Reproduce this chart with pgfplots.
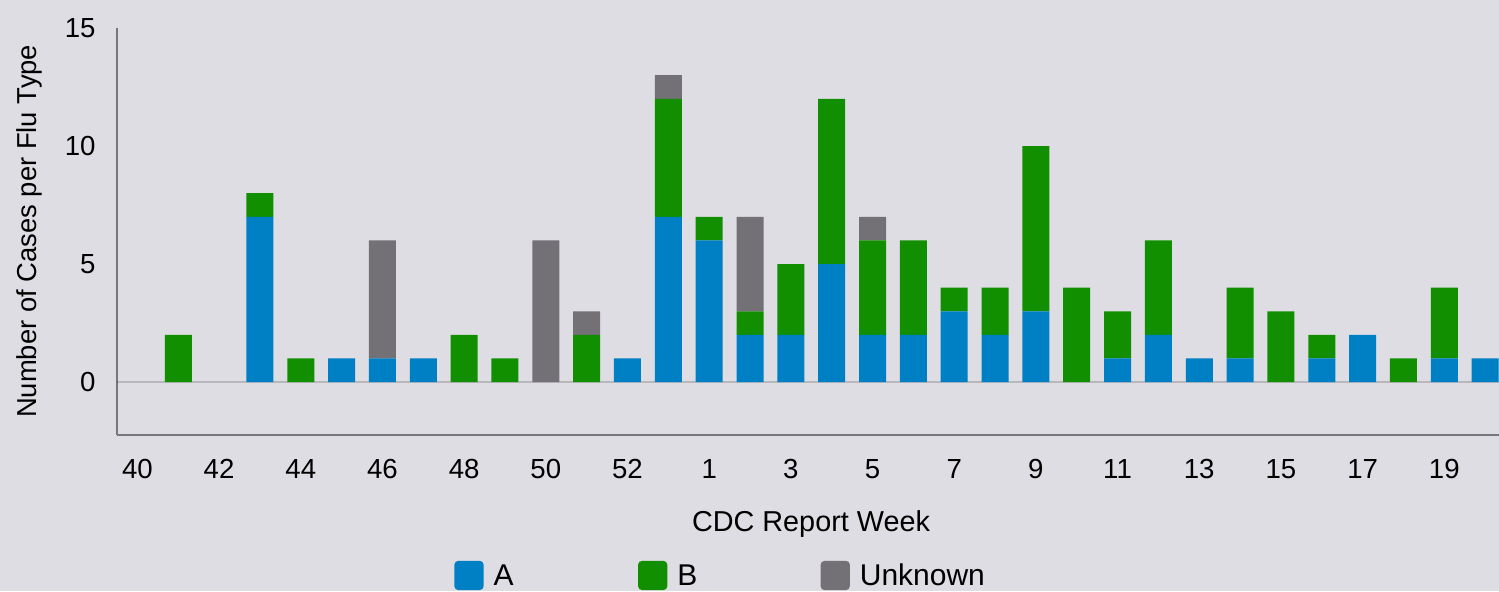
\documentclass[border=0pt]{standalone}
\usepackage{fontspec}
\setmainfont{Liberation Sans}
\usepackage{pgfplots}
\usepackage{pgfplotstable}
\pgfplotsset{compat=1.18}
\definecolor{bg}{HTML}{DEDDE3}
\definecolor{cA}{HTML}{0080C4}
\definecolor{cB}{HTML}{118F00}
\definecolor{cU}{HTML}{737176}
\definecolor{axc}{HTML}{77767B}
\pgfplotsset{roundsq/.style={legend image code/.code={\fill[##1, draw=none, rounded corners=2pt] (0pt,-2.2pt) rectangle (14.65pt,12.45pt);}}}
\pgfplotstableread{
x A B U
0 0 0 0
1 0 2 0
2 0 0 0
3 7 1 0
4 0 1 0
5 1 0 0
6 1 0 5
7 1 0 0
8 0 2 0
9 0 1 0
10 0 0 6
11 0 2 1
12 1 0 0
13 7 5 1
14 6 1 0
15 2 1 4
16 2 3 0
17 5 7 0
18 2 4 1
19 2 4 0
20 3 1 0
21 2 2 0
22 3 7 0
23 0 4 0
24 1 2 0
25 2 4 0
26 1 0 0
27 1 3 0
28 0 3 0
29 1 1 0
30 2 0 0
31 0 1 0
32 1 3 0
33 1 0 0
}\flu
\begin{document}
\begin{tikzpicture}
\fill[bg] (0,0) rectangle (749.5pt,295.5pt);
\begin{axis}[
  at={(58.5pt,78.15pt)}, anchor=south west,
  scale only axis, width=691pt, height=203.35pt,
  ybar stacked, bar width=13.5pt,
  xmin=-0.5, xmax=33.34, ymin=-2.23, ymax=15,
  axis lines*=left,
  axis line style={axc, line width=0.9pt, -},
  major tick length=0pt,
  xtick={0,2,...,32},
  xticklabels={40,42,44,46,48,50,52,1,3,5,7,9,11,13,15,17,19},
  ytick={0,5,10,15},
  /pgf/number format/assume math mode=true,
  tick label style={font=\fontsize{13.8}{16}\selectfont, text=black},
  xticklabel style={anchor=center, yshift=-17.3pt, inner sep=0pt},
  yticklabel style={anchor=east, xshift=-10.5pt, inner sep=0pt},
  xlabel={CDC Report Week},
  xlabel style={at={(axis description cs:0.5022,-0.2368)}, anchor=base, font=\fontsize{14.4}{17}\selectfont},
  ylabel={Number of Cases per Flu Type},
  ylabel style={at={(axis description cs:-0.0632,0.5)}, anchor=center, font=\fontsize{13.7}{16}\selectfont},
  every axis plot post/.append style={roundsq},
  legend columns=3,
  legend style={at={(axis description cs:0.2441,-0.3713)}, anchor=base west,
    draw=none, fill=none, inner sep=0pt, outer sep=0pt,
    font=\fontsize{15}{18}\selectfont, column sep=5pt,
    nodes={inner sep=0pt, anchor=base west},
    /tikz/column 2/.style={column sep=62.2pt},
    /tikz/column 4/.style={column sep=61.6pt}},
]
\addplot[fill=cA, draw=none] table[x=x, y=A]{\flu};
\addplot[fill=cB, draw=none] table[x=x, y=B]{\flu};
\addplot[fill=cU, draw=none] table[x=x, y=U]{\flu};
\legend{A,B,Unknown}
\draw[black, opacity=0.17, line width=1pt] (axis cs:-0.5,0) -- (axis cs:33.34,0);
\end{axis}
\pgfresetboundingbox
\path[use as bounding box] (0,0) rectangle (749.5pt,295.5pt);
\end{tikzpicture}
\end{document}
